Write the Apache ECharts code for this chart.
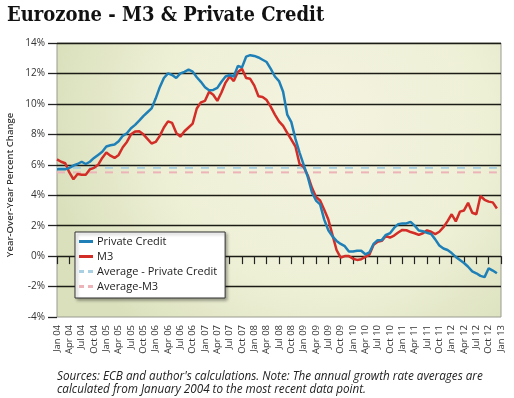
<!DOCTYPE html>
<html><head><meta charset="utf-8">
<script src="https://cdn.jsdelivr.net/npm/echarts@6/dist/echarts.min.js"></script>
<style>html,body{margin:0;padding:0;background:#fff}#c{width:514px;height:398px}</style>
</head><body><div id="c"></div><script>
const TITLE = 'Eurozone - M3 & Private Credit';
const Y_AXIS_NAME = 'Year-Over-Year Percent Change';
const FOOTNOTE = "Sources: ECB and author's calculations. Note: The annual growth rate averages are\ncalculated from January 2004 to the most recent data point.";
const MONTHS = ['Jan','Feb','Mar','Apr','May','Jun','Jul','Aug','Sep','Oct','Nov','Dec'];
const YEARS = ['04','05','06','07','08','09','10','11','12','13'];
const SERIES_NAMES = ['Private Credit','M3','Average - Private Credit','Average-M3'];
const Y_MIN = -4, Y_MAX = 14, Y_STEP = 2;

// Monthly, Jan 2004 .. Dec 2012
const PRIVATE_CREDIT = [
 5.7,5.7,5.7,5.8,5.95,6.05,6.2,6.05,6.2,6.45,6.65,6.85,
 7.2,7.28,7.33,7.55,7.9,8.07,8.4,8.62,8.9,9.2,9.45,9.7,
 10.35,11.1,11.7,12.0,11.9,11.7,12.0,12.1,12.25,12.12,11.75,11.45,
 11.1,10.9,10.92,11.05,11.45,11.8,11.9,11.8,12.5,12.4,13.1,13.2,
 13.15,13.05,12.9,12.75,12.3,11.8,11.5,10.8,9.3,8.8,7.7,6.8,
 6.0,5.2,4.2,3.65,3.4,2.4,1.7,1.3,1.0,0.8,0.65,0.3,
 0.3,0.35,0.35,0.12,0.25,0.8,1.05,1.05,1.4,1.5,1.85,2.1,
 2.15,2.15,2.25,2.0,1.68,1.64,1.53,1.45,1.1,0.7,0.5,0.4,
 0.2,-0.05,-0.25,-0.45,-0.7,-1.0,-1.13,-1.3,-1.38,-0.8,-0.95,-1.13
];
const M3 = [
 6.35,6.2,6.1,5.5,5.05,5.4,5.35,5.35,5.7,5.8,6.0,6.45,
 6.8,6.6,6.45,6.65,7.15,7.5,8.0,8.18,8.2,8.0,7.7,7.4,
 7.5,7.9,8.45,8.85,8.75,8.1,7.85,8.2,8.45,8.7,9.7,10.1,
 10.2,10.8,10.6,10.2,10.75,11.4,11.8,11.5,12.1,12.3,11.7,11.65,
 11.2,10.5,10.45,10.25,9.8,9.3,8.85,8.55,8.1,7.65,7.2,6.05,
 5.85,5.3,4.5,3.88,3.65,3.05,2.4,1.4,0.4,-0.1,0.0,0.0,
 -0.17,-0.25,-0.2,-0.05,0.1,0.75,0.95,1.0,1.32,1.22,1.35,1.55,
 1.72,1.7,1.58,1.5,1.39,1.5,1.69,1.6,1.45,1.6,1.9,2.3,
 2.75,2.28,2.92,3.0,3.5,2.85,2.75,3.95,3.7,3.58,3.53,3.13
];
const AVG_PRIVATE_CREDIT = 5.8;
const AVG_M3 = 5.5;

const CATEGORIES = [];
YEARS.forEach((y, yi) => MONTHS.forEach((m, mi) => {
  if (yi < YEARS.length - 1 || mi === 0) CATEGORIES.push(m + ' ' + y);
}));
const FIRST = CATEGORIES[0];
const LAST_DATA = CATEGORIES[PRIVATE_CREDIT.length - 1];

const splitColors = [];
for (let v = Y_MIN; v <= Y_MAX; v += Y_STEP) splitColors.push(v === Y_MIN ? 'rgba(0,0,0,0)' : '#1c1c16');

const SOLID_ICON = 'path://M0,0H14V3H0Z';
const DASH_ICON = 'path://M0,0H5V3H0Z M9,0H14V3H9Z';

const chart = echarts.init(document.getElementById('c'));
chart.setOption({
  animation: false,
  backgroundColor: '#ffffff',
  title: {
    text: TITLE, left: 2, top: 1,
    textStyle: {fontFamily: 'DejaVu Serif Condensed', fontWeight: 'bold', fontSize: 20, color: '#111'}
  },
  graphic: [
    {type: 'text', x: 10, y: 185, rotation: Math.PI / 2,
     style: {text: Y_AXIS_NAME, align: 'center', verticalAlign: 'middle',
       fontFamily: 'Open Sans', fontSize: 9.5, fontWeight: 600, fill: '#333'}},
    {type: 'text', left: 57, top: 370,
     style: {text: FOOTNOTE, fontFamily: 'Open Sans', fontStyle: 'italic', fontSize: 11.7,
       lineHeight: 13, fill: '#222'}}
  ],
  legend: {
    orient: 'vertical', left: 75, top: 232,
    data: [
      {name: SERIES_NAMES[0], icon: SOLID_ICON},
      {name: SERIES_NAMES[1], icon: SOLID_ICON},
      {name: SERIES_NAMES[2], icon: DASH_ICON},
      {name: SERIES_NAMES[3], icon: DASH_ICON}
    ],
    itemWidth: 14, itemHeight: 3, itemGap: 4,
    padding: [4, 8, 6, 4],
    backgroundColor: '#fff', borderColor: '#333', borderWidth: 1,
    shadowColor: 'rgba(0,0,0,0.35)', shadowBlur: 3, shadowOffsetX: 2, shadowOffsetY: 2,
    textStyle: {fontFamily: 'Open Sans', fontSize: 11, color: '#222', padding: [0,0,0,-1]}
  },
  grid: {
    left: 57, right: 13, top: 43, bottom: 81,
    show: true,
    backgroundColor: {type: 'radial', x: 0.6, y: 0.3, r: 1.0,
      colorStops: [{offset: 0, color: '#f4f3e0'}, {offset: 0.6, color: '#eef0d6'}, {offset: 1, color: '#dae0bc'}]},
    borderColor: '#9b9b90', borderWidth: 1
  },
  xAxis: {
    type: 'category', data: CATEGORIES, boundaryGap: false, offset: 3,
    axisLine: {show: false},
    axisTick: {show: true, interval: 2, length: 8, lineStyle: {color: '#222', width: 1.2}},
    axisLabel: {interval: 2, rotate: 90, margin: 5, fontFamily: 'Open Sans', fontSize: 9.5, color: '#333'},
    splitLine: {show: false}
  },
  yAxis: {
    type: 'value', min: Y_MIN, max: Y_MAX, interval: Y_STEP,
    axisLine: {show: false},
    axisTick: {show: true, length: 9, lineStyle: {color: '#222', width: 1.3}},
    axisLabel: {formatter: '{value}%', margin: 12, fontFamily: 'Open Sans', fontSize: 10, color: '#333'},
    splitLine: {show: true, lineStyle: {color: splitColors, width: 1.4}}
  },
  series: [
    {name: SERIES_NAMES[2], type: 'line', symbol: 'none', z: 1,
     data: [[FIRST, AVG_PRIVATE_CREDIT], [LAST_DATA, AVG_PRIVATE_CREDIT]],
     lineStyle: {color: '#a9d0e2', width: 2, type: [8, 8]}, itemStyle: {color: '#a9d0e2'}},
    {name: SERIES_NAMES[3], type: 'line', symbol: 'none', z: 1,
     data: [[FIRST, AVG_M3], [LAST_DATA, AVG_M3]],
     lineStyle: {color: '#ecb4b8', width: 2, type: [8, 8]}, itemStyle: {color: '#ecb4b8'}},
    {name: SERIES_NAMES[1], type: 'line', symbol: 'none', z: 2, data: M3,
     lineStyle: {color: '#d22d27', width: 2.5}, itemStyle: {color: '#d22d27'}},
    {name: SERIES_NAMES[0], type: 'line', symbol: 'none', z: 3, data: PRIVATE_CREDIT,
     lineStyle: {color: '#1f80b8', width: 2.5}, itemStyle: {color: '#1f80b8'}}
  ]
});
</script></body></html>
